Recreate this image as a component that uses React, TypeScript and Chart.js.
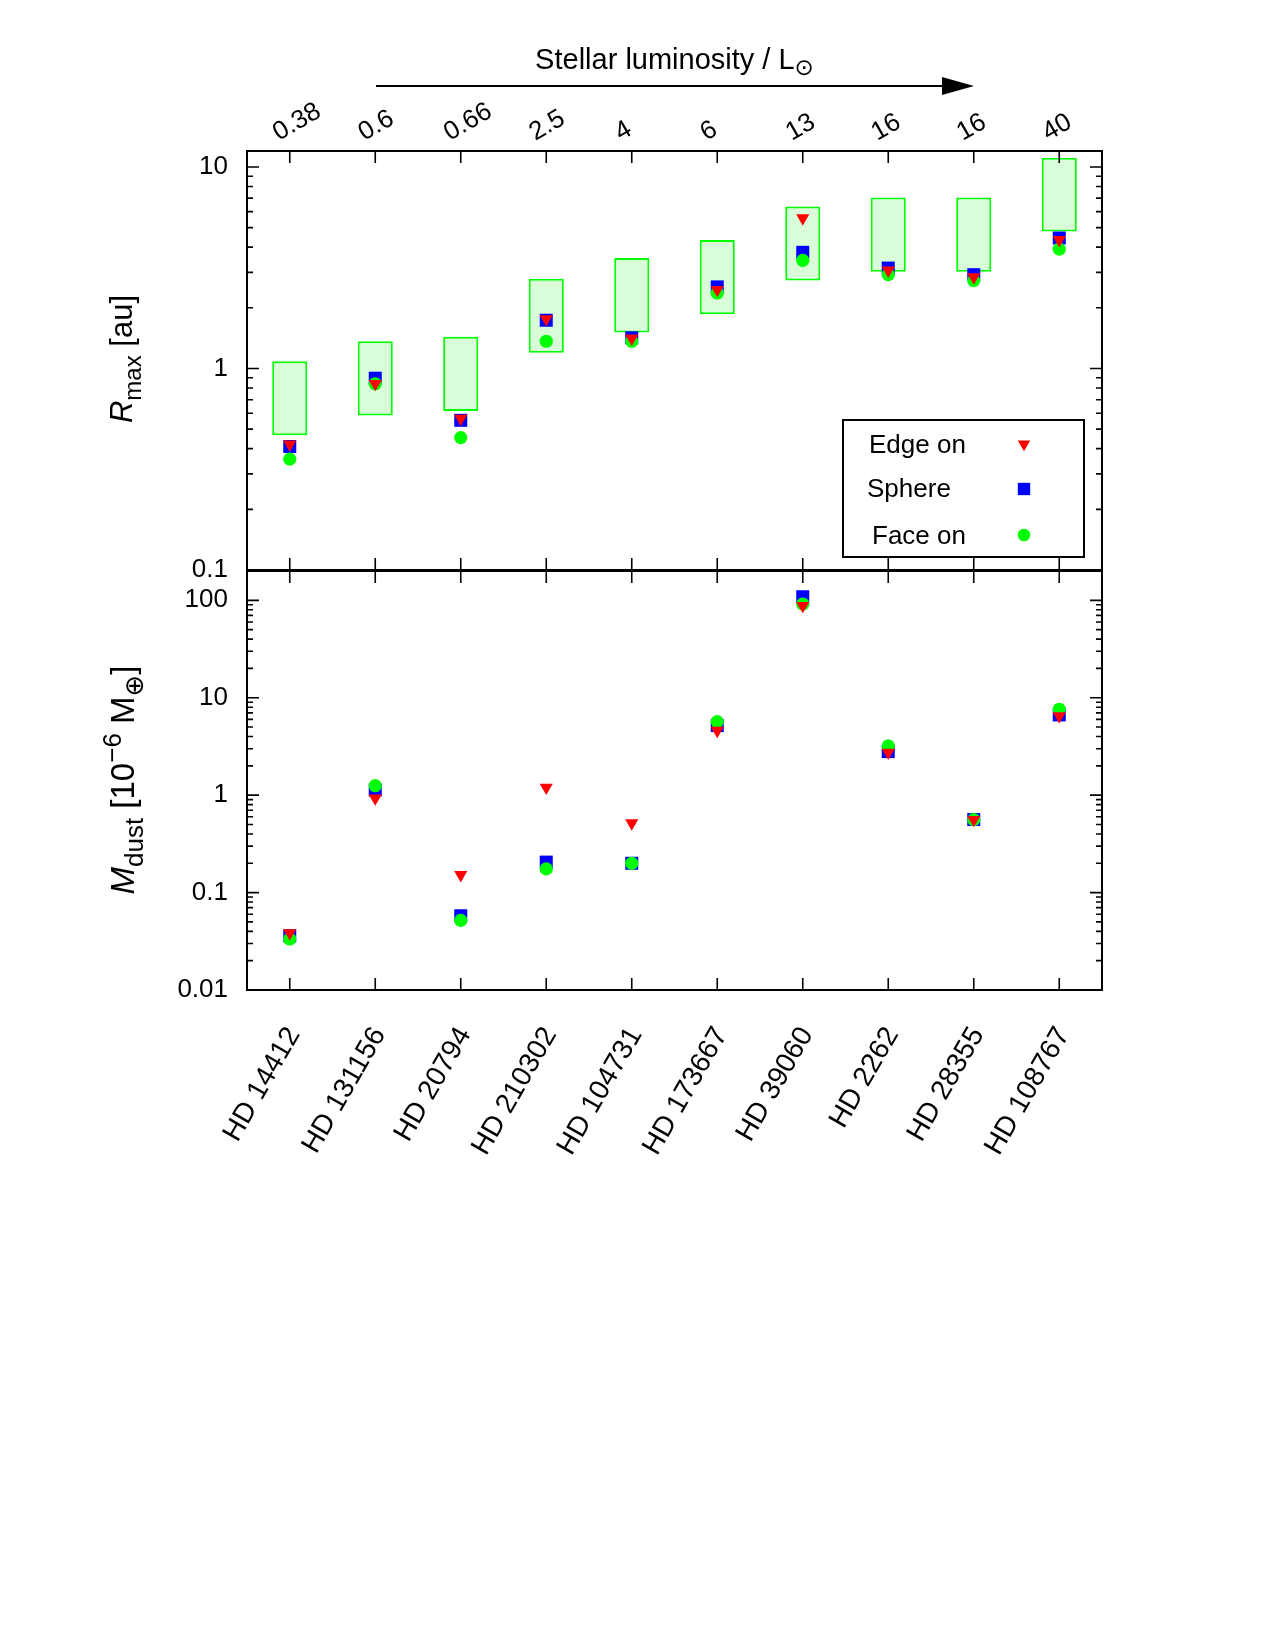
import React, { useEffect, useRef } from 'react';
import { Chart, registerables } from 'chart.js';

Chart.register(...registerables);

const W = 1275;
const H = 1650;
const FONT = "'Liberation Sans', Arial, 'DejaVu Sans', sans-serif";

// ---------- data ----------
const starNames = ['HD 14412', 'HD 131156', 'HD 20794', 'HD 210302', 'HD 104731', 'HD 173667', 'HD 39060', 'HD 2262', 'HD 28355', 'HD 108767'];
const luminosityLabels = ['0.38', '0.6', '0.66', '2.5', '4', '6', '13', '16', '16', '40'];

const boxLow = [0.466, 0.585, 0.615, 1.196, 1.51, 1.86, 2.73, 3.02, 3.02, 4.78];
const boxHigh = [1.087, 1.365, 1.435, 2.79, 3.53, 4.34, 6.36, 7.05, 7.05, 11.1];

const rmaxEdgeOn = [0.42, 0.84, 0.564, 1.76, 1.41, 2.46, 5.57, 3.07, 2.84, 4.35];
const rmaxSphere = [0.41, 0.895, 0.553, 1.735, 1.42, 2.54, 3.77, 3.15, 2.92, 4.44];
const rmaxFaceOn = [0.355, 0.84, 0.454, 1.365, 1.365, 2.37, 3.44, 2.92, 2.73, 3.91];

const mdustEdgeOn = [0.0385, 0.93, 0.152, 1.2, 0.516, 4.6, 88, 2.74, 0.56, 6.5];
const mdustSphere = [0.036, 1.13, 0.0578, 0.2055, 0.2, 5.18, 108.8, 2.8, 0.562, 6.66];
const mdustFaceOn = [0.0334, 1.25, 0.0518, 0.175, 0.2, 5.69, 91.6, 3.2, 0.56, 7.62];

const rmaxTickLabels = [0.1, 1, 10];
const mdustTickLabels = [0.01, 0.1, 1, 10, 100];
const legendLabels = ['Edge on', 'Sphere', 'Face on'];

// ---------- style ----------
const RED = '#ff0000';
const BLUE = '#0000ff';
const GREEN = '#00ff00';
const BOX_FILL = '#d9fdd9';

const PLOT_LEFT = 247;
const PLOT_RIGHT = 1102;
const TOP_PANEL = { top: 151, bottom: 570 };
const BOT_PANEL = { top: 571, bottom: 990 };

type Marker = { pointStyle: string; rotation: number; radius: number; color: string };
const markers: Marker[] = [
  { pointStyle: 'triangle', rotation: 180, radius: 7.6, color: RED },
  { pointStyle: 'rect', rotation: 0, radius: 9.2, color: BLUE },
  { pointStyle: 'circle', rotation: 0, radius: 6.6, color: GREEN },
];

function markerDataset(label: string, data: number[], m: Marker, order: number) {
  return {
    type: 'line',
    label,
    data,
    showLine: false,
    pointStyle: m.pointStyle,
    pointRotation: m.rotation,
    pointRadius: m.radius,
    pointHoverRadius: m.radius,
    pointBackgroundColor: m.color,
    pointBorderColor: m.color,
    pointBorderWidth: 0,
    backgroundColor: m.color,
    borderColor: m.color,
    order,
    clip: false,
  };
}

function logTickList(min: number, max: number) {
  const out: { value: number; major: boolean }[] = [];
  const e0 = Math.floor(Math.log10(min) + 1e-9);
  const e1 = Math.ceil(Math.log10(max));
  for (let e = e0; e <= e1; e++) {
    for (let k = 1; k <= 9; k++) {
      const v = parseFloat((k * Math.pow(10, e)).toPrecision(8));
      if (v >= min * (1 - 1e-9) && v <= max * (1 + 1e-9)) out.push({ value: v, major: k === 1 });
    }
  }
  return out;
}

function yScale(min: number, max: number, labels: number[]) {
  return {
    type: 'logarithmic',
    position: 'left',
    min,
    max,
    afterBuildTicks: (s: any) => {
      s.ticks = logTickList(min, max);
    },
    afterFit: (s: any) => {
      s.width = PLOT_LEFT;
    },
    grid: { display: false, drawTicks: false },
    border: { display: false },
    ticks: {
      autoSkip: false,
      padding: 19,
      color: '#000',
      font: { family: FONT, size: 26 },
      callback: (v: any) => {
        const n = Number(v);
        const hit = labels.find((l) => Math.abs(l - n) <= l * 1e-6);
        return hit !== undefined ? String(hit) : '';
      },
    },
  };
}

function xScale() {
  return {
    type: 'category',
    position: 'bottom',
    offset: true,
    grid: { display: false, drawTicks: false },
    border: { display: false },
    ticks: { display: false },
    afterFit: (s: any) => {
      s.height = 0;
    },
  };
}

type Seg = { t: string; s: number; it?: boolean; dy?: number };
function drawRich(ctx: CanvasRenderingContext2D, segs: Seg[], x: number, y: number, rot: number) {
  ctx.save();
  ctx.translate(x, y);
  ctx.rotate(rot);
  ctx.textAlign = 'left';
  ctx.textBaseline = 'alphabetic';
  const fontOf = (g: Seg) => `${g.it ? 'italic ' : ''}${g.s}px ${FONT}`;
  let total = 0;
  const widths = segs.map((g) => {
    ctx.font = fontOf(g);
    const w = ctx.measureText(g.t).width;
    total += w;
    return w;
  });
  let cx = -total / 2;
  segs.forEach((g, i) => {
    ctx.font = fontOf(g);
    ctx.fillText(g.t, cx, g.dy || 0);
    cx += widths[i];
  });
  ctx.restore();
}

function pathMarker(ctx: CanvasRenderingContext2D, m: Marker, x: number, y: number, r: number) {
  ctx.beginPath();
  if (m.pointStyle === 'circle') {
    ctx.arc(x, y, r, 0, Math.PI * 2);
  } else if (m.pointStyle === 'rect') {
    const s = Math.SQRT1_2 * r;
    ctx.rect(x - s, y - s, 2 * s, 2 * s);
  } else {
    let rad = (m.rotation * Math.PI) / 180;
    ctx.moveTo(x + Math.sin(rad) * r, y - Math.cos(rad) * r);
    rad += (2 * Math.PI) / 3;
    ctx.lineTo(x + Math.sin(rad) * r, y - Math.cos(rad) * r);
    rad += (2 * Math.PI) / 3;
    ctx.lineTo(x + Math.sin(rad) * r, y - Math.cos(rad) * r);
  }
  ctx.closePath();
  ctx.fillStyle = m.color;
  ctx.fill();
}

const framePlugin = {
  id: 'frameTicks',
  afterDraw(chart: any) {
    const { ctx, chartArea: a } = chart;
    const x = chart.scales.x;
    const y = chart.scales.y;
    ctx.save();
    ctx.strokeStyle = '#000';
    ctx.lineWidth = 1.6;
    ctx.beginPath();
    for (let i = 0; i < x.ticks.length; i++) {
      const px = x.getPixelForTick(i);
      ctx.moveTo(px, a.top);
      ctx.lineTo(px, a.top + 12);
      ctx.moveTo(px, a.bottom);
      ctx.lineTo(px, a.bottom - 12);
    }
    y.ticks.forEach((t: any) => {
      const py = y.getPixelForValue(t.value);
      if (py < a.top + 1 || py > a.bottom - 1) return;
      const len = t.major ? 12 : 6;
      ctx.moveTo(a.left, py);
      ctx.lineTo(a.left + len, py);
      ctx.moveTo(a.right, py);
      ctx.lineTo(a.right - len, py);
    });
    ctx.stroke();
    ctx.lineWidth = 2;
    ctx.strokeRect(a.left, a.top, a.right - a.left, a.bottom - a.top);
    ctx.restore();
  },
};

const topDecor = {
  id: 'topDecor',
  afterDraw(chart: any) {
    const { ctx, chartArea: a } = chart;
    const x = chart.scales.x;
    ctx.save();
    ctx.fillStyle = '#000';
    ctx.strokeStyle = '#000';
    // luminosity labels along the top (left-aligned, rotated by 30 degrees)
    ctx.font = `26px ${FONT}`;
    ctx.textAlign = 'left';
    ctx.textBaseline = 'alphabetic';
    luminosityLabels.forEach((lab, i) => {
      const px = x.getPixelForTick(i);
      ctx.save();
      ctx.translate(px - 11, 141);
      ctx.rotate(-Math.PI / 6);
      ctx.fillText(lab, 0, 0);
      ctx.restore();
    });
    // title
    drawRich(ctx, [
      { t: 'Stellar luminosity / L', s: 29 },
      { t: '\u2299', s: 23, dy: 6 },
    ], (a.left + a.right) / 2, 69, 0);
    // arrow
    ctx.lineWidth = 2;
    ctx.beginPath();
    ctx.moveTo(376, 86);
    ctx.lineTo(944, 86);
    ctx.stroke();
    ctx.beginPath();
    ctx.moveTo(974, 86);
    ctx.lineTo(942, 77);
    ctx.lineTo(942, 95);
    ctx.closePath();
    ctx.fill();
    // y title
    drawRich(ctx, [
      { t: 'R', s: 31, it: true },
      { t: 'max', s: 24, dy: 9 },
      { t: ' [au]', s: 31 },
    ], 132, 359, -Math.PI / 2);
    // legend
    ctx.lineWidth = 2;
    ctx.strokeRect(843, 420, 241, 137);
    ctx.font = `26px ${FONT}`;
    ctx.textAlign = 'left';
    ctx.textBaseline = 'alphabetic';
    const lx = [869, 867, 872];
    const ly = [453, 497, 544];
    const my = [444, 489, 535];
    legendLabels.forEach((lab, i) => {
      ctx.fillStyle = '#000';
      ctx.fillText(lab, lx[i], ly[i]);
      pathMarker(ctx, markers[i], 1024, my[i], markers[i].radius * 0.95);
    });
    ctx.restore();
  },
};

const bottomDecor = {
  id: 'bottomDecor',
  afterDraw(chart: any) {
    const { ctx } = chart;
    const x = chart.scales.x;
    ctx.save();
    ctx.fillStyle = '#000';
    ctx.font = `28px ${FONT}`;
    ctx.textAlign = 'right';
    ctx.textBaseline = 'middle';
    starNames.forEach((lab, i) => {
      const px = x.getPixelForTick(i);
      ctx.save();
      ctx.translate(px + 4, 1030);
      ctx.rotate(-Math.PI / 3);
      ctx.fillText(lab, 0, 0);
      ctx.restore();
    });
    drawRich(ctx, [
      { t: 'M', s: 33, it: true },
      { t: 'dust', s: 26, dy: 9 },
      { t: ' [10', s: 33 },
      { t: '\u22126', s: 26, dy: -13 },
      { t: ' M', s: 33 },
      { t: '\u2295', s: 26, dy: 9 },
      { t: ']', s: 33 },
    ], 134, 780, -Math.PI / 2);
    ctx.restore();
  },
};

function baseOptions(panel: { top: number; bottom: number }, yMin: number, yMax: number, labels: number[]) {
  return {
    responsive: false,
    animation: false,
    events: [],
    layout: {
      padding: { left: 0, right: W - PLOT_RIGHT, top: panel.top, bottom: H - panel.bottom },
    },
    plugins: { legend: { display: false }, tooltip: { enabled: false }, title: { display: false } },
    scales: {
      x: xScale(),
      y: yScale(yMin, yMax, labels),
    },
  };
}

function topConfig(): any {
  return {
    data: {
      labels: starNames,
      datasets: [
        {
          type: 'bar',
          label: 'range',
          data: boxLow.map((l, i) => [l, boxHigh[i]]),
          backgroundColor: BOX_FILL,
          borderColor: GREEN,
          borderWidth: 2,
          borderSkipped: false,
          barPercentage: 0.41,
          categoryPercentage: 1,
          order: 10,
        },
        markerDataset(legendLabels[0], rmaxEdgeOn, markers[0], 1),
        markerDataset(legendLabels[1], rmaxSphere, markers[1], 3),
        markerDataset(legendLabels[2], rmaxFaceOn, markers[2], 2),
      ],
    },
    options: baseOptions(TOP_PANEL, 0.1, 12, rmaxTickLabels),
    plugins: [framePlugin, topDecor],
  };
}

function bottomConfig(): any {
  return {
    data: {
      labels: starNames,
      datasets: [
        markerDataset(legendLabels[0], mdustEdgeOn, markers[0], 1),
        markerDataset(legendLabels[1], mdustSphere, markers[1], 3),
        markerDataset(legendLabels[2], mdustFaceOn, markers[2], 2),
      ],
    },
    options: baseOptions(BOT_PANEL, 0.01, 200, mdustTickLabels),
    plugins: [framePlugin, bottomDecor],
  };
}

export default function App() {
  const topRef = useRef<HTMLCanvasElement>(null);
  const botRef = useRef<HTMLCanvasElement>(null);
  useEffect(() => {
    const c1 = new Chart(topRef.current as HTMLCanvasElement, topConfig());
    const c2 = new Chart(botRef.current as HTMLCanvasElement, bottomConfig());
    return () => {
      c1.destroy();
      c2.destroy();
    };
  }, []);
  return (
    <div style={{ position: 'absolute', left: 0, top: 0, width: W, height: H, background: '#fff' }}>
      <canvas ref={botRef} width={W} height={H} style={{ position: 'absolute', left: 0, top: 0 }} />
      <canvas ref={topRef} width={W} height={H} style={{ position: 'absolute', left: 0, top: 0 }} />
    </div>
  );
}
